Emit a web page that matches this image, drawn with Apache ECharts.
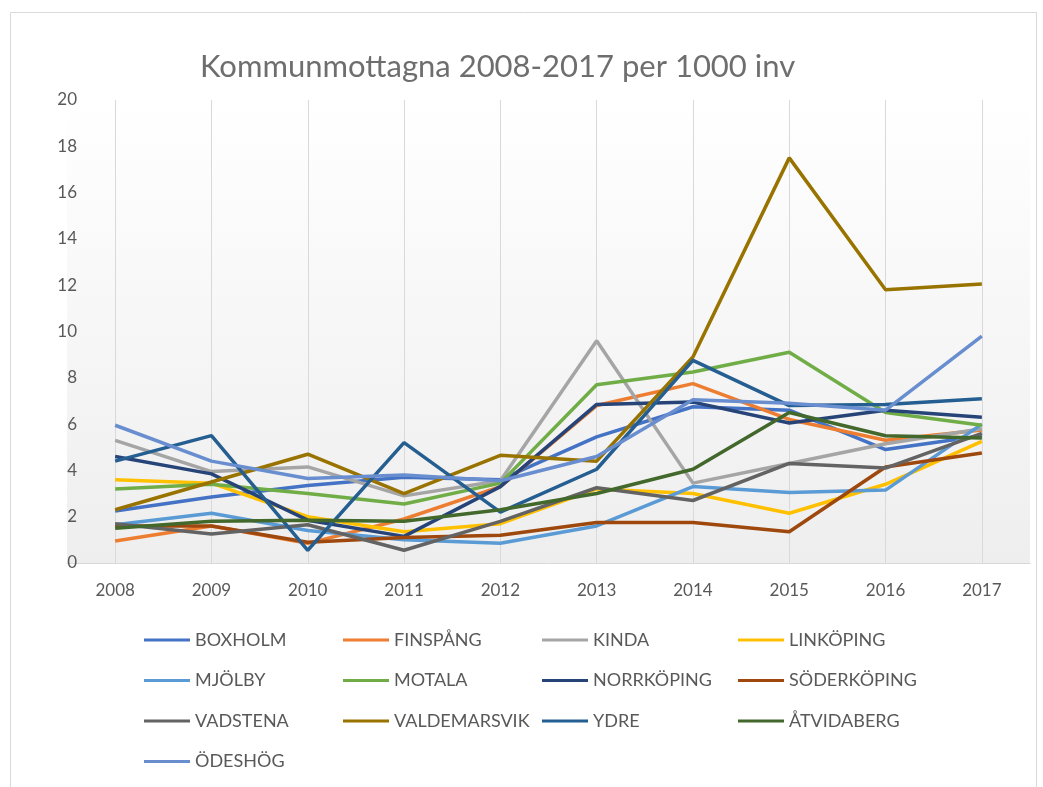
<!DOCTYPE html>
<html>
<head>
<meta charset="utf-8">
<script src="https://cdn.jsdelivr.net/npm/echarts@6/dist/echarts.min.js"></script>
<style>html,body{margin:0;padding:0;background:#fff}#c{width:1043px;height:787px}</style>
</head>
<body>
<div id="c"></div>
<script>
const years = ['2008','2009','2010','2011','2012','2013','2014','2015','2016','2017'];
const yTicks = { min: 0, max: 20, interval: 2 };

const BOXHOLM      = [2.25, 2.85, 3.35, 3.70, 3.60, 5.45, 6.75, 6.60, 4.90, 5.50];
const FINSPANG     = [0.95, 1.60, 0.85, 1.90, 3.30, 6.80, 7.75, 6.20, 5.30, 5.75];
const KINDA        = [5.30, 3.95, 4.15, 2.90, 3.55, 9.60, 3.45, 4.30, 5.15, 5.80];
const LINKOPING    = [3.60, 3.45, 2.00, 1.35, 1.70, 3.20, 3.00, 2.15, 3.40, 5.25];
const MJOLBY       = [1.65, 2.15, 1.40, 1.00, 0.85, 1.60, 3.30, 3.05, 3.15, 6.00];
const MOTALA       = [3.20, 3.40, 3.00, 2.55, 3.45, 7.70, 8.25, 9.10, 6.50, 5.95];
const NORRKOPING   = [4.60, 3.85, 1.85, 1.15, 3.30, 6.85, 6.95, 6.05, 6.60, 6.30];
const SODERKOPING  = [1.60, 1.60, 0.90, 1.10, 1.20, 1.75, 1.75, 1.35, 4.15, 4.75];
const VADSTENA     = [1.70, 1.25, 1.65, 0.55, 1.80, 3.25, 2.70, 4.30, 4.10, 5.60];
const VALDEMARSVIK = [2.30, 3.50, 4.70, 3.00, 4.65, 4.40, 8.90, 17.50, 11.80, 12.05];
const YDRE         = [4.40, 5.50, 0.55, 5.20, 2.20, 4.05, 8.75, 6.80, 6.85, 7.10];
const ATVIDABERG   = [1.50, 1.80, 1.85, 1.80, 2.30, 3.00, 4.05, 6.50, 5.50, 5.40];
const ODESHOG      = [5.95, 4.40, 3.65, 3.80, 3.55, 4.60, 7.05, 6.90, 6.60, 9.80];

const seriesDefs = [
  ['BOXHOLM', BOXHOLM, '#4472C4'],
  ['FINSPÅNG', FINSPANG, '#ED7D31'],
  ['KINDA', KINDA, '#A5A5A5'],
  ['LINKÖPING', LINKOPING, '#FFC000'],
  ['MJÖLBY', MJOLBY, '#5B9BD5'],
  ['MOTALA', MOTALA, '#70AD47'],
  ['NORRKÖPING', NORRKOPING, '#264478'],
  ['SÖDERKÖPING', SODERKOPING, '#9E480E'],
  ['VADSTENA', VADSTENA, '#636363'],
  ['VALDEMARSVIK', VALDEMARSVIK, '#997300'],
  ['YDRE', YDRE, '#255E91'],
  ['ÅTVIDABERG', ATVIDABERG, '#43682B'],
  ['ÖDESHÖG', ODESHOG, '#698ED0']
];

const legendCols = [
  ['BOXHOLM','MJÖLBY','VADSTENA','ÖDESHÖG'],
  ['FINSPÅNG','MOTALA','VALDEMARSVIK'],
  ['KINDA','NORRKÖPING','YDRE'],
  ['LINKÖPING','SÖDERKÖPING','ÅTVIDABERG']
];
const legendLeft = [139, 338, 537, 733];

const font = 'Lato, "Liberation Sans", sans-serif';
const chart = echarts.init(document.getElementById('c'));
chart.setOption({
  backgroundColor: '#ffffff',
  animation: false,
  graphic: [{
    type: 'rect', left: 8, top: 10, silent: true,
    shape: { width: 1026, height: 790 },
    style: { fill: 'none', stroke: '#d9d9d9', lineWidth: 1 }
  }],
  title: {
    text: 'Kommunmottagna 2008-2017 per 1000 inv',
    left: 195, top: 46,
    textStyle: { fontFamily: font, fontSize: 31, fontWeight: 'normal', color: '#6e6e6e' }
  },
  grid: {
    left: 67, right: 13, top: 100, bottom: 224,
    show: true, borderWidth: 0,
    backgroundColor: new echarts.graphic.LinearGradient(0, 0, 0, 1, [
      { offset: 0, color: '#ffffff' }, { offset: 1, color: '#eeeeee' }
    ])
  },
  legend: legendCols.map((col, i) => ({
    data: col, orient: 'vertical', left: legendLeft[i], top: 625,
    icon: 'rect', itemWidth: 46, itemHeight: 3, itemGap: 20.5,
    textStyle: { fontFamily: font, fontSize: 18, color: '#595959', lineHeight: 20 }
  })),
  xAxis: {
    type: 'category', data: years, boundaryGap: true,
    axisLine: { lineStyle: { color: '#d9d9d9', width: 1 } },
    axisTick: { show: false },
    splitLine: { show: true, alignWithLabel: true, lineStyle: { color: '#d9d9d9', width: 1 } },
    axisLabel: { margin: 19, fontFamily: font, fontSize: 17, color: '#595959' }
  },
  yAxis: {
    type: 'value', min: yTicks.min, max: yTicks.max, interval: yTicks.interval,
    axisLine: { show: false }, axisTick: { show: false }, splitLine: { show: false },
    axisLabel: { margin: -10, fontFamily: font, fontSize: 17, color: '#595959' }
  },
  series: seriesDefs.map(([name, data, color]) => ({
    name, type: 'line', data, symbol: 'none', color,
    lineStyle: { width: 3.5, color }
  }))
});
</script>
</body>
</html>
